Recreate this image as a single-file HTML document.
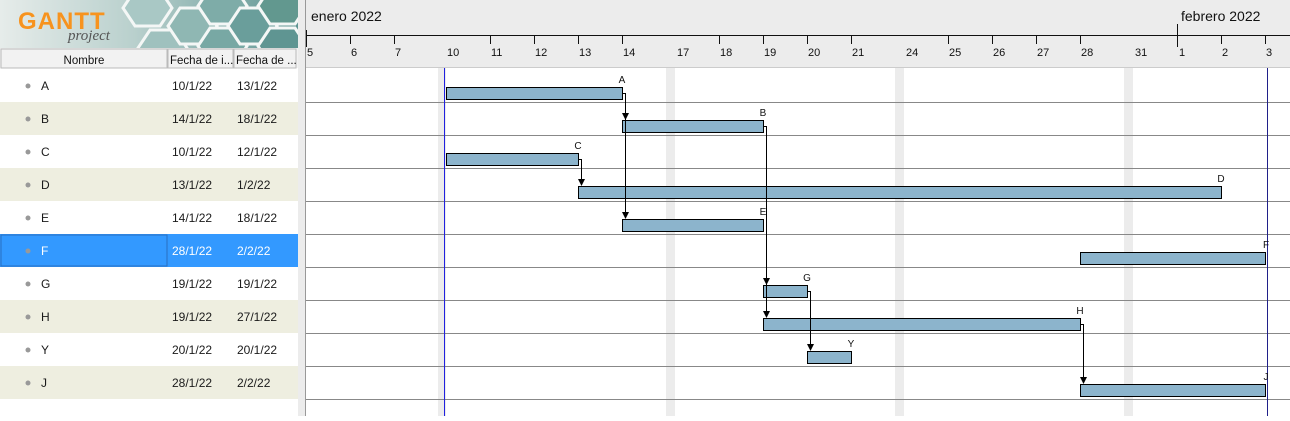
<!DOCTYPE html>
<html><head><meta charset="utf-8"><style>
body{margin:0;width:1290px;height:416px;overflow:hidden;background:#fff;font-family:"Liberation Sans",Arial,sans-serif;}
</style></head><body>
<svg width="1290" height="416" xmlns="http://www.w3.org/2000/svg" font-family="Liberation Sans, Arial, sans-serif">
<defs>
<linearGradient id="lg" x1="0" x2="1" y1="0" y2="0">
<stop offset="0" stop-color="#e6ecea"/><stop offset="0.45" stop-color="#b9d0cd"/><stop offset="1" stop-color="#5f9592"/></linearGradient>
<clipPath id="cl"><rect x="0" y="0" width="298" height="48"/></clipPath>
</defs>
<!-- logo -->
<rect x="0" y="0" width="298" height="48" fill="url(#lg)"/>
<g clip-path="url(#cl)" stroke="#f4f7f6" stroke-width="3">
<polygon points="135,-10 160,-10 172,8 160,26 135,26 123,8" fill="#a9c8c5"/>
<polygon points="150,30 175,30 187,48 175,66 150,66 138,48" fill="#9fc1be"/>
<polygon points="180,8 205,8 217,26 205,44 180,44 168,26" fill="#8fb7b3"/>
<polygon points="210,-12 235,-12 247,6 235,24 210,24 198,6" fill="#7eaca8"/>
<polygon points="210,28 235,28 247,46 235,64 210,64 198,46" fill="#78a8a4"/>
<polygon points="240,8 265,8 277,26 265,44 240,44 228,26" fill="#6a9e9b"/>
<polygon points="270,-12 295,-12 307,6 295,24 270,24 258,6" fill="#62988f"/>
<polygon points="270,28 295,28 307,46 295,64 270,64 258,46" fill="#5f9592"/>
</g>
<text x="18" y="29" font-size="24" font-weight="bold" fill="#f7931e" letter-spacing="1">GANTT</text>
<text x="68" y="40" font-size="15" font-style="italic" fill="#555" font-family="Liberation Serif, serif">project</text>
<!-- left table header -->
<rect x="0" y="48" width="298" height="20" fill="#f2f2f2"/>
<rect x="1" y="49" width="166" height="19" fill="#f2f2f2" stroke="#bbb"/>
<rect x="168" y="49" width="65" height="19" fill="#f2f2f2" stroke="#bbb"/>
<rect x="234" y="49" width="62" height="19" fill="#f2f2f2" stroke="#bbb"/>
<g font-size="11.5" fill="#111">
<text x="84" y="64" text-anchor="middle">Nombre</text>
<text x="170" y="64">Fecha de i...</text>
<text x="236" y="64">Fecha de ...</text>
</g>
<!-- rows -->
<g>
<rect x="0" y="102" width="298" height="33" fill="#eeeee0"/>
<rect x="0" y="168" width="298" height="33" fill="#eeeee0"/>
<rect x="0" y="234" width="298" height="33" fill="#3399ff"/>
<rect x="1" y="235" width="166" height="31" fill="none" stroke="#2a6fc0"/>
<rect x="0" y="300" width="298" height="33" fill="#eeeee0"/>
<rect x="0" y="366" width="298" height="33" fill="#eeeee0"/>
</g>
<g fill="#999">
<circle cx="28" cy="86" r="2.5"/><circle cx="28" cy="119" r="2.5"/><circle cx="28" cy="152" r="2.5"/><circle cx="28" cy="185" r="2.5"/><circle cx="28" cy="218" r="2.5"/><circle cx="28" cy="251" r="2.5"/><circle cx="28" cy="284" r="2.5"/><circle cx="28" cy="317" r="2.5"/><circle cx="28" cy="350" r="2.5"/><circle cx="28" cy="383" r="2.5"/>
</g>
<g font-size="12" fill="#1a1a1a">
<text x="41" y="90">A</text><text x="172" y="90">10/1/22</text><text x="237" y="90">13/1/22</text>
<text x="41" y="123">B</text><text x="172" y="123">14/1/22</text><text x="237" y="123">18/1/22</text>
<text x="41" y="156">C</text><text x="172" y="156">10/1/22</text><text x="237" y="156">12/1/22</text>
<text x="41" y="189">D</text><text x="172" y="189">13/1/22</text><text x="237" y="189">1/2/22</text>
<text x="41" y="222">E</text><text x="172" y="222">14/1/22</text><text x="237" y="222">18/1/22</text>
<text x="41" y="255" fill="#fff">F</text><text x="172" y="255" fill="#fff">28/1/22</text><text x="237" y="255" fill="#fff">2/2/22</text>
<text x="41" y="288">G</text><text x="172" y="288">19/1/22</text><text x="237" y="288">19/1/22</text>
<text x="41" y="321">H</text><text x="172" y="321">19/1/22</text><text x="237" y="321">27/1/22</text>
<text x="41" y="354">Y</text><text x="172" y="354">20/1/22</text><text x="237" y="354">20/1/22</text>
<text x="41" y="387">J</text><text x="172" y="387">28/1/22</text><text x="237" y="387">2/2/22</text>
</g>
<!-- divider -->
<rect x="298" y="0" width="7" height="416" fill="#ececec"/>
<line x1="305.5" y1="0" x2="305.5" y2="416" stroke="#999"/>
<!-- timeline header -->
<rect x="306" y="0" width="984" height="68" fill="#ececec"/>
<line x1="306" y1="67.5" x2="1290" y2="67.5" stroke="#ccc"/>
<text x="311" y="21" font-size="14" fill="#111">enero 2022</text>
<text x="1181" y="21" font-size="14" fill="#111">febrero 2022</text>
<line x1="306" y1="35.5" x2="1290" y2="35.5" stroke="#111"/>
<g stroke="#111">
<line x1="306.5" y1="30" x2="306.5" y2="47"/><line x1="1177.5" y1="24" x2="1177.5" y2="47"/>
<line x1="350.5" y1="35" x2="350.5" y2="44"/><line x1="394.5" y1="35" x2="394.5" y2="44"/>
<line x1="490.5" y1="35" x2="490.5" y2="44"/><line x1="534.5" y1="35" x2="534.5" y2="44"/><line x1="578.5" y1="35" x2="578.5" y2="44"/><line x1="622.5" y1="35" x2="622.5" y2="44"/>
<line x1="719.5" y1="35" x2="719.5" y2="44"/><line x1="763.5" y1="35" x2="763.5" y2="44"/><line x1="807.5" y1="35" x2="807.5" y2="44"/><line x1="851.5" y1="35" x2="851.5" y2="44"/>
<line x1="948.5" y1="35" x2="948.5" y2="44"/><line x1="992.5" y1="35" x2="992.5" y2="44"/><line x1="1036.5" y1="35" x2="1036.5" y2="44"/><line x1="1080.5" y1="35" x2="1080.5" y2="44"/>
<line x1="1221.5" y1="35" x2="1221.5" y2="44"/><line x1="1265.5" y1="35" x2="1265.5" y2="44"/>
</g>
<g font-size="11" fill="#111">
<text x="307" y="56">5</text><text x="351" y="56">6</text><text x="395" y="56">7</text><text x="447" y="56">10</text>
<text x="491" y="56">11</text><text x="535" y="56">12</text><text x="579" y="56">13</text><text x="623" y="56">14</text>
<text x="677" y="56">17</text><text x="720" y="56">18</text><text x="764" y="56">19</text><text x="808" y="56">20</text><text x="852" y="56">21</text>
<text x="906" y="56">24</text><text x="949" y="56">25</text><text x="993" y="56">26</text><text x="1037" y="56">27</text><text x="1081" y="56">28</text>
<text x="1135" y="56">31</text><text x="1179" y="56">1</text><text x="1222" y="56">2</text><text x="1266" y="56">3</text>
</g>
<!-- weekends -->
<g fill="#ececec">
<rect x="438" y="68" width="8" height="348"/><rect x="666" y="68" width="9" height="348"/><rect x="895" y="68" width="9" height="348"/><rect x="1124" y="68" width="9" height="348"/>
</g>
<!-- row lines -->
<g stroke="#888">
<line x1="306" y1="102.5" x2="1290" y2="102.5"/><line x1="306" y1="135.5" x2="1290" y2="135.5"/><line x1="306" y1="168.5" x2="1290" y2="168.5"/><line x1="306" y1="201.5" x2="1290" y2="201.5"/><line x1="306" y1="234.5" x2="1290" y2="234.5"/><line x1="306" y1="267.5" x2="1290" y2="267.5"/><line x1="306" y1="300.5" x2="1290" y2="300.5"/><line x1="306" y1="333.5" x2="1290" y2="333.5"/><line x1="306" y1="366.5" x2="1290" y2="366.5"/><line x1="306" y1="399.5" x2="1290" y2="399.5"/>
</g>
<line x1="444.5" y1="68" x2="444.5" y2="416" stroke="#2020e0"/>
<line x1="1267.5" y1="68" x2="1267.5" y2="416" stroke="#20208a"/>
<!-- bars -->
<g fill="#8cb4cc" stroke="#000" stroke-width="1">
<rect x="446.5" y="87.5" width="176" height="12"/>
<rect x="622.5" y="120.5" width="141" height="12"/>
<rect x="446.5" y="153.5" width="132" height="12"/>
<rect x="578.5" y="186.5" width="643" height="12"/>
<rect x="622.5" y="219.5" width="141" height="12"/>
<rect x="1080.5" y="252.5" width="185" height="12"/>
<rect x="763.5" y="285.5" width="44" height="12"/>
<rect x="763.5" y="318.5" width="317" height="12"/>
<rect x="807.5" y="351.5" width="44" height="12"/>
<rect x="1080.5" y="384.5" width="185" height="12"/>
</g>
<g font-size="10" fill="#111" text-anchor="middle">
<text x="622" y="83">A</text><text x="763" y="116">B</text><text x="578" y="149">C</text><text x="1221" y="182">D</text><text x="763" y="215">E</text><text x="1266" y="248">F</text><text x="807" y="281">G</text><text x="1080" y="314">H</text><text x="851" y="347">Y</text><text x="1266" y="380">J</text>
</g>
<!-- arrows -->
<g stroke="#000" fill="none">
<polyline points="623,93.5 625.5,93.5 625.5,118"/>
<polyline points="625.5,118 625.5,218"/>
<polyline points="579,159.5 581.5,159.5 581.5,185"/>
<polyline points="764,126.5 766.5,126.5 766.5,284"/>
<polyline points="766.5,284 766.5,317"/>
<polyline points="808,291.5 810.5,291.5 810.5,350"/>
<polyline points="1081,324.5 1083.5,324.5 1083.5,383"/>
</g>
<g fill="#000">
<polygon points="622,113 629,113 625.5,120"/>
<polygon points="622,212 629,212 625.5,219"/>
<polygon points="578,179 585,179 581.5,186"/>
<polygon points="763,278 770,278 766.5,285"/>
<polygon points="763,311 770,311 766.5,318"/>
<polygon points="807,344 814,344 810.5,351"/>
<polygon points="1080,377 1087,377 1083.5,384"/>
</g>
</svg>
</body></html>
